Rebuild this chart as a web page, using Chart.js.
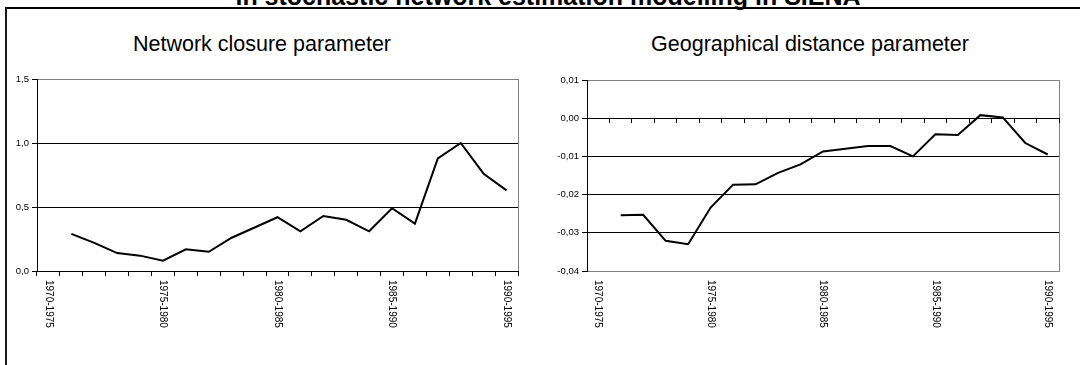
<!DOCTYPE html>
<html>
<head>
<meta charset="utf-8">
<script src="https://cdn.jsdelivr.net/npm/chart.js@4.4.0/dist/chart.umd.min.js"></script>
<style>
    body { margin: 0; background: #fff; width: 1080px; height: 365px; overflow: hidden; position: relative; font-family: Arial, "Liberation Sans", sans-serif; }
    #frame { position: absolute; left: 5px; top: 7px; width: 1100px; height: 400px; border-top: 2px solid #000; border-left: 2px solid #1a1a1a; }
    .title { position: absolute; top: -18px; left: 8px; width: 1080px; text-align: center; font-weight: bold; font-size: 25px; white-space: nowrap; }
    .sub { position: absolute; top: 32px; width: 400px; font-size: 21.5px; text-align: center; white-space: nowrap; }
    canvas { position: absolute; }
</style>
</head>
<body>
<div id="frame"></div>
<div class="title">in stochastic network estimation modelling in SIENA</div>
<div class="sub" style="left:62px">Network closure parameter</div>
<div class="sub" style="left:610px">Geographical distance parameter</div>
<canvas id="closureChart" width="532" height="356" style="left:8px;top:9px"></canvas>
<canvas id="distanceChart" width="540" height="356" style="left:540px;top:9px"></canvas>

<script>
// periodes glissantes de 5 ans
const periods = ['1970-1975', '1971-1976', '1972-1977', '1973-1978', '1974-1979',
    '1975-1980', '1976-1981', '1977-1982', '1978-1983', '1979-1984',
    '1980-1985', '1981-1986', '1982-1987', '1983-1988', '1984-1989',
    '1985-1990', '1986-1991', '1987-1992', '1988-1993', '1989-1994',
    '1990-1995'];

const closureValues = [null, 0.29, 0.22, 0.14, 0.12, 0.08, 0.17, 0.15, 0.26, 0.34, 0.42,
    0.31, 0.43, 0.40, 0.31, 0.49, 0.37, 0.88, 1.00, 0.76, 0.63];

const distanceValues = [null, -0.0254, -0.0253, -0.0321, -0.0330, -0.0234, -0.0174, -0.0173,
    -0.0143, -0.0121, -0.0087, -0.0080, -0.0073, -0.0073, -0.0100, -0.0042, -0.0044,
    0.0008, 0.0002, -0.0065, -0.0095];

// axes y : min, max, pas, decimales
const closureAxis = [0, 1.5, 0.5, 1];
const distanceAxis = [-0.04, 0.01, 0.01, 2];

// cadre gris de la zone de tracé
const plotFrame = {
    id: 'plotFrame',
    beforeDraw(chart) {
        const a = chart.chartArea;
        const ctx = chart.ctx;
        ctx.save();
        ctx.strokeStyle = '#808080';
        ctx.lineWidth = 1;
        ctx.strokeRect(Math.round(a.left) + 0.5, Math.round(a.top) + 0.5,
            Math.round(a.right - a.left), Math.round(a.bottom - a.top));
        ctx.restore();
    }
};

// libellés verticaux (lecture de haut en bas), une période sur cinq
const periodLabels = {
    id: 'periodLabels',
    afterDraw(chart) {
        const x = chart.scales.x;
        const ctx = chart.ctx;
        ctx.save();
        ctx.font = '10px Arial, "Liberation Sans"';
        ctx.fillStyle = '#000';
        ctx.textAlign = 'left';
        ctx.textBaseline = 'middle';
        periods.forEach((p, i) => {
            if (i % 5 !== 0) return;
            ctx.save();
            ctx.translate(x.getPixelForValue(i), chart.chartArea.bottom + 9);
            ctx.rotate(Math.PI / 2);
            ctx.fillText(p, 0, 0);
            ctx.restore();
        });
        ctx.restore();
    }
};

function makeChart(id, values, axis, axisWidth, padRight, padTop) {
    const [yMin, yMax, yStep, decimals] = axis;
    return new Chart(document.getElementById(id), {
        type: 'line',
        data: {
            labels: periods,
            datasets: [{
                data: values,
                borderColor: '#000',
                borderWidth: 2,
                pointRadius: 0,
                tension: 0,
                fill: false
            }]
        },
        options: {
            responsive: false,
            animation: false,
            layout: { padding: { left: 0, right: padRight, top: padTop, bottom: 94 } },
            plugins: { legend: { display: false }, tooltip: { enabled: false } },
            scales: {
                x: {
                    position: { y: 0 },
                    offset: true,
                    grid: { offset: true, drawOnChartArea: false, drawTicks: true, tickLength: 4, tickColor: '#000' },
                    border: { color: '#000', width: 1 },
                    ticks: { display: false }
                },
                y: {
                    min: yMin,
                    max: yMax,
                    afterFit: s => { s.width = axisWidth; },
                    border: { color: '#000', width: 1 },
                    grid: {
                        color: c => (c.tick && (Math.abs(c.tick.value - yMax) < 1e-9 || Math.abs(c.tick.value - yMin) < 1e-9)) ? '#808080' : '#000',
                        tickLength: 5,
                        tickColor: '#000'
                    },
                    ticks: {
                        stepSize: yStep,
                        padding: 3,
                        color: '#000',
                        font: { family: 'Arial, "Liberation Sans"', size: 9.5 },
                        callback: v => Number(v).toFixed(decimals).replace('.', ',')
                    }
                }
            }
        },
        plugins: [plotFrame, periodLabels]
    });
}

document.addEventListener('DOMContentLoaded', () => {
    makeChart('closureChart', closureValues, closureAxis, 29, 22, 70);
    makeChart('distanceChart', distanceValues, distanceAxis, 47, 21, 71);
});
</script>
</body>
</html>
